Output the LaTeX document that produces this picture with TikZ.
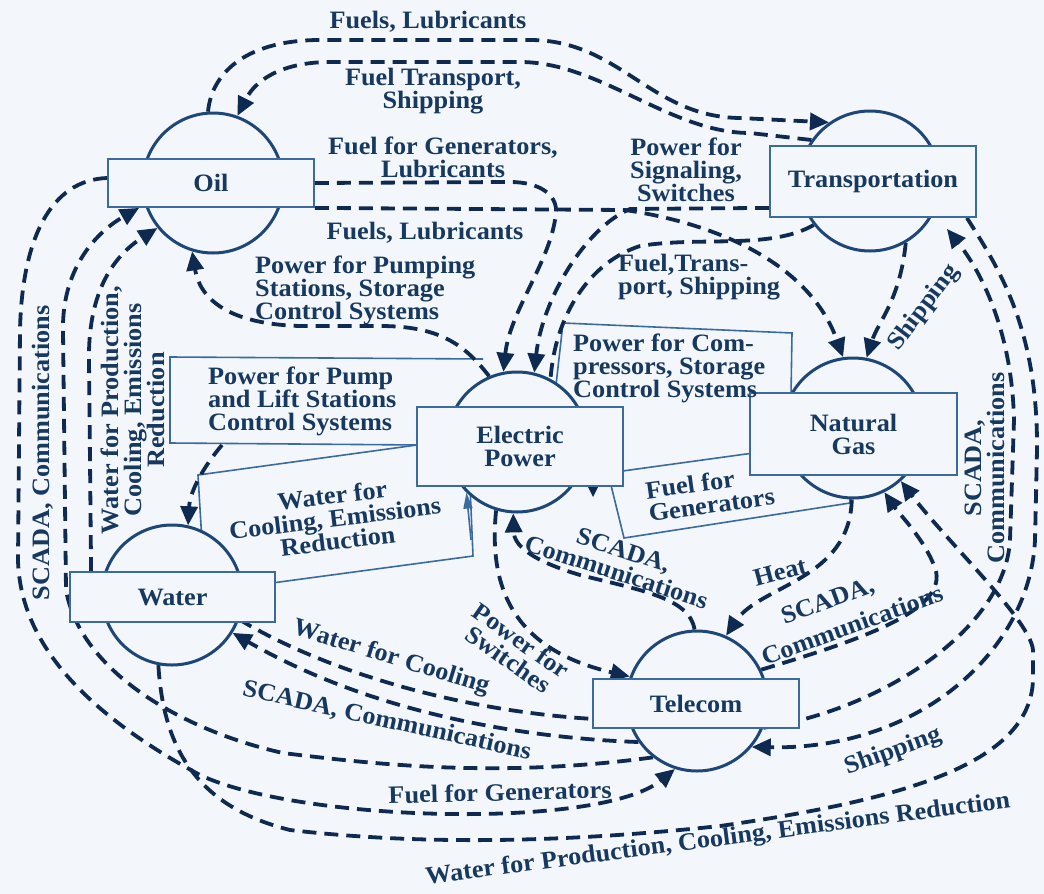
\documentclass[tikz,border=0pt]{standalone}
\usepackage{fontspec}
\setmainfont{Liberation Serif}[FakeStretch=1.05]
\usetikzlibrary{arrows.meta,calc}
\pgfdeclarelayer{back}
\pgfsetlayers{back,main}
\definecolor{bgc}{HTML}{F3F7FB}
\definecolor{ink}{HTML}{17385F}
\definecolor{dashc}{HTML}{0F2A50}
\definecolor{rim}{HTML}{1E4677}
\definecolor{boxc}{HTML}{3A6A9F}
\tikzset{
  flow/.style={draw=dashc, line width=3.8pt, dash pattern=on 14pt off 8pt},
  arr/.style={-{Triangle[length=19pt,width=17pt]}},
  smallarr/.style={-{Triangle[length=16pt,width=9pt]}},
  circ/.style={circle, draw=rim, line width=3pt, fill=bgc, minimum size=140pt, inner sep=0pt},
  rbox/.style={rectangle, draw=boxc, line width=1.8pt, fill=bgc, minimum width=206pt, inner sep=0pt, text=ink, align=center},
  lbl/.style={text=ink, align=center, inner sep=0pt},
  boxline/.style={draw=boxc, line width=1.6pt},
}
\begin{document}
\begin{tikzpicture}[x=1pt,y=-1pt,font=\fontsize{25}{23}\selectfont\bfseries]
\useasboundingbox (0,0) rectangle (1044,894);

% ---------- infrastructure nodes ----------
\node[circ] (oilC) at (213,183) {};
\node[circ] (transC) at (870,181) {};
\node[circ] (epC) at (517,442) {};
\node[circ] (ngC) at (853,428) {};
\node[circ] (waterC) at (172,595) {};
\node[circ] (telC) at (697,701) {};
\node[rbox, minimum height=48pt] (oil) at (211,183) {Oil};
\node[rbox, minimum height=71pt] (trans) at (873,181.5) {Transportation};
\node[rbox, minimum height=79pt] (ep) at (520,446.5) {Electric\\Power};
\node[rbox, minimum height=82pt, minimum width=207pt] (ng) at (853.5,434) {Natural\\Gas};
\node[rbox, minimum height=50pt, minimum width=205pt] (water) at (172.5,597) {Water};
\node[rbox, minimum height=49pt] (tel) at (696,703.5) {Telecom};

\coordinate (pumpfoot) at (222,445);
\coordinate (coolright) at (471,540);

\begin{pgfonlayer}{back}
\fill[bgc] (0,0) rectangle (1044,894);
% label boxes
\draw[boxline] (483,359) -- (170,357) -- (170,443) -- (420,445);
\draw[boxline] (198,475) -- (468,438) -- (473,556) -- (205,592) -- cycle;
\draw[boxline] (556,385) -- (563,323) -- (792,333) -- (791,395);
\draw[boxline] (608,473) -- (848,440) -- (850,503) -- (624,538) -- cycle;

% Oil -> Transportation (Fuels, Lubricants)
\draw[flow,arr] (oilC.94) .. controls (212,70) and (250,40) .. (320,40) -- (530,40)
  .. controls (620,40) and (650,117) .. (740,118) -- (transC.125);
% Transportation -> Oil (Fuel Transport, Shipping)
\draw[flow,arr] (transC.145) -- (750,133) .. controls (670,133) and (600,62) .. (520,62) -- (330,62)
  .. controls (290,62) and (258,75) .. (oilC.70);
% Oil -> Electric Power (Fuel for Generators, Lubricants)
\draw[flow,arr] (oil.east) -- (510,182) .. controls (540,182) and (557,195) .. (556,212)
  .. controls (552,260) and (510,310) .. (epC.101);
% Oil -> Natural Gas (Fuels, Lubricants)
\draw[flow,arr] (oil.south east) -- (625,210) .. controls (720,224) and (810,265) .. (ngC.98);
% Electric Power / Transportation (Signaling)
\draw[flow,arr] (trans.west |- oil.south east) -- (630,209) .. controls (585,228) and (542,300) .. (epC.76);
% Transportation -> Electric Power (Fuel, Transport, Shipping)
\draw[flow] (transC.218) .. controls (770,250) and (700,236) .. (640,246)
  .. controls (590,262) and (555,315) .. (epC.62);
% Transportation -> Natural Gas (Shipping)
\draw[flow,arr] (transC.-60) .. controls (900,300) and (878,322) .. (ngC.79);
% Electric Power -> Oil (Power for Pumping Stations)
\draw[flow,arr] (epC.113) .. controls (465,345) and (440,326) .. (380,326) -- (300,326)
  .. controls (230,324) and (200,300) .. (oilC.-107);
% Electric Power -> Water (Pump and Lift Stations)
\draw[flow,arr] (pumpfoot) .. controls (205,465) and (190,490) .. (waterC.77);
% Water -> Electric Power (cooling box)
\draw[boxline,smallarr] (coolright) -- (epC.-135);
\fill[dashc] (586,483) -- (600,483) -- (593,497) -- cycle;
% Telecom -> Electric Power (SCADA)
\draw[flow,arr] (telC.92) .. controls (690,598) and (640,590) .. (580,575)
  .. controls (530,560) and (514,545) .. (epC.-93);
% Electric Power -> Telecom (Power for Switches)
\draw[flow,arr] (epC.-107) .. controls (488,590) and (515,650) .. (telC.160);
% Natural Gas -> Telecom (Heat)
\draw[flow,arr] (ngC.-91) .. controls (850,580) and (760,585) .. (telC.66);
% Water -> Telecom (Water for Cooling)
\draw[flow] (waterC.-20) .. controls (320,668) and (450,710) .. ($(tel.south west)+(0,-10)$);
% Telecom -> Water (SCADA)
\draw[flow,arr] (telC.-145) .. controls (520,738) and (370,712) .. (waterC.-32);
% Telecom -> Oil (SCADA)
\draw[flow,arr] (telC.-128) .. controls (500,778) and (380,765) .. (283,753)
  .. controls (180,730) and (80,670) .. (66,590) -- (63,330)
  .. controls (62,265) and (100,230) .. ($(oil.south west)+(32,0)$);
% Water -> Oil (Water for Production ...)
\draw[flow,arr] ($(water.north west)+(22,0)$) -- (89,360) .. controls (88,290) and (115,255) .. (oilC.-141);
% Oil -> Telecom (Fuel for Generators)
\draw[flow,arr] ($(oil.west)+(0,-5)$) .. controls (50,180) and (22,240) .. (20,330) -- (18,560)
  .. controls (20,640) and (80,710) .. (200,775) .. controls (300,822) and (600,830) .. (telC.-108);
% Water -> Natural Gas (Water for Production ...)
\draw[flow,arr] (waterC.-101) .. controls (163,740) and (190,805) .. (290,830)
  .. controls (420,845) and (560,843) .. (720,826) .. controls (900,800) and (1030,765) .. (1033,680)
  -- (1033,650) .. controls (1030,620) and (950,545) .. (ngC.-48);
% Transportation -> Telecom (Shipping)
\draw[flow,arr] ($(trans.south east)+(-10,0)$) .. controls (1000,270) and (1038,330) .. (1037,450)
  -- (1035,540) .. controls (1030,650) and (920,750) .. (telC.-40);
% Telecom -> Transportation (SCADA)
\draw[flow,arr] (telC.-22) .. controls (880,710) and (1005,630) .. (1010,540) -- (1014,420)
  .. controls (1012,330) and (980,270) .. ($(trans.south east)+(-30,11)$);
% Telecom -> Natural Gas (SCADA)
\draw[flow,arr] (telC.26) .. controls (860,640) and (950,610) .. (935,568)
  .. controls (925,540) and (900,515) .. (ngC.-64);
\end{pgfonlayer}

% ---------- labels ----------
\node[lbl] (l1) at (428,22) {Fuels, Lubricants};
\node[lbl] (l2) at (433,91) {Fuel Transport,\\Shipping};
\node[lbl] (l3) at (443,157) {Fuel for Generators,\\Lubricants};
\node[lbl] (l4) at (425,233) {Fuels, Lubricants};
\node[lbl, align=left, anchor=west] (l5) at (255,290) {Power for Pumping\\Stations, Storage\\Control Systems};
\node[lbl] (l6) at (686,170) {Power for\\Signaling,\\Switches};
\node[lbl, align=left, anchor=west] (l7) at (618,277) {Fuel,Trans-\\port, Shipping};
\node[lbl, rotate=53] (l8) at (924,308) {Shipping};
\node[lbl, align=left, anchor=west] (l9) at (573,368) {Power for Com-\\pressors, Storage\\Control Systems};
\node[lbl, align=left, anchor=west] (l10) at (208,401) {Power for Pump\\and Lift Stations\\Control Systems};
\node[lbl, rotate=7] (l11) at (335,518) {Water for\\Cooling, Emissions\\Reduction};
\node[lbl, rotate=8, align=left, anchor=west] (l12) at (647,502) {Fuel for\\Generators};
\node[lbl, rotate=-18] (l13) at (620,561) {SCADA,\\Communications};
\node[lbl, rotate=15] (l14) at (780,572) {Heat};
\node[lbl, rotate=20] (l15a) at (828,602) {SCADA,};
\node[lbl, rotate=20] (l15b) at (852,625) {Communications};
\node[lbl, rotate=-35] (l16) at (515,650) {Power for\\Switches};
\node[lbl, rotate=-17] (l17) at (391,658) {Water for Cooling};
\node[lbl, rotate=-12.5] (l18) at (387,721) {SCADA, Communications};
\node[lbl, rotate=1.5] (l19) at (500,792) {Fuel for Generators};
\node[lbl, rotate=20] (l20) at (893,752) {Shipping};
\node[lbl, rotate=7.5] (l21) at (718,840) {Water for Production, Cooling, Emissions Reduction};
\node[lbl, rotate=90] (l22) at (43,453) {SCADA, Communications};
\node[lbl, rotate=90] (l23) at (133,410) {Water for Production,\\Cooling, Emissions\\Reduction};
\node[lbl, rotate=90] (l24) at (985,468) {SCADA,\\Communications};
\end{tikzpicture}
\end{document}
